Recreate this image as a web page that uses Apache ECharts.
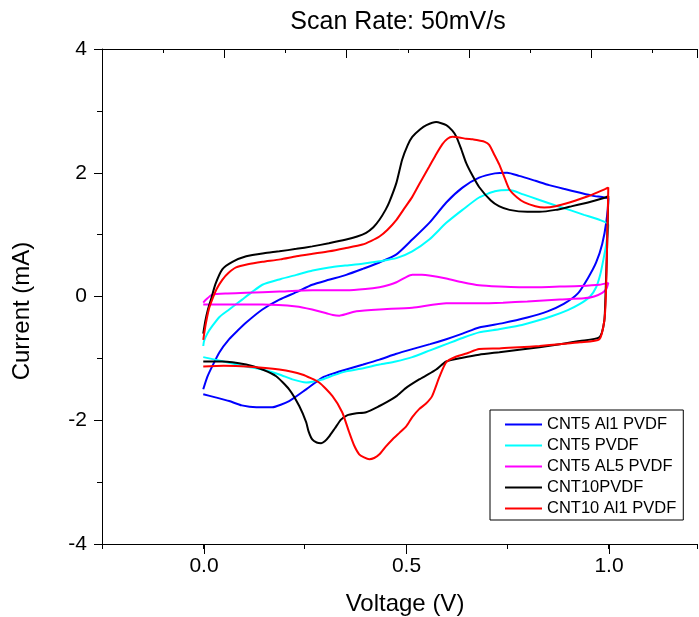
<!DOCTYPE html>
<html>
<head>
<meta charset="utf-8">
<script src="https://cdn.jsdelivr.net/npm/echarts@6/dist/echarts.min.js"></script>
<style>
  html, body { margin: 0; padding: 0; background: #fff; }
  #chart { width: 699px; height: 617px; }
</style>
</head>
<body>
<div id="chart"></div>
<script>
// CV loops: [voltage (V), current (mA)], forward sweep then return sweep
const seriesNames = ['CNT5 Al1 PVDF', 'CNT5 PVDF', 'CNT5 AL5 PVDF', 'CNT10PVDF', 'CNT10 Al1 PVDF'];
const seriesColors = ['#0000ff', '#00ffff', '#ff00ff', '#000000', '#ff0000'];

const cnt5Al1 = [
  [0.0, -1.5], [0.01, -1.3], [0.022, -1.13], [0.04, -0.9], [0.064, -0.69], [0.085, -0.55], [0.106, -0.42],
  [0.146, -0.21], [0.188, -0.05], [0.23, 0.07], [0.269, 0.19], [0.31, 0.27], [0.353, 0.35], [0.395, 0.45],
  [0.435, 0.55], [0.477, 0.68], [0.516, 0.92], [0.558, 1.19], [0.6, 1.52], [0.64, 1.76], [0.681, 1.92],
  [0.72, 1.99], [0.75, 2.0], [0.78, 1.95], [0.82, 1.87], [0.854, 1.8], [0.89, 1.74], [0.928, 1.68],
  [0.96, 1.63], [0.99, 1.6], [1.0, 1.58],
  [0.995, 1.2], [0.985, 0.85], [0.97, 0.55], [0.95, 0.3], [0.925, 0.05], [0.89, -0.12], [0.85, -0.24],
  [0.8, -0.34], [0.74, -0.43], [0.681, -0.5], [0.64, -0.6], [0.6, -0.69], [0.56, -0.77], [0.516, -0.85],
  [0.475, -0.93], [0.435, -1.02], [0.395, -1.1], [0.353, -1.18], [0.323, -1.24], [0.294, -1.31],
  [0.254, -1.5], [0.212, -1.69], [0.17, -1.79], [0.131, -1.79], [0.095, -1.76], [0.064, -1.69],
  [0.03, -1.63], [0.0, -1.58]
];

const cnt5 = [
  [0.0, -0.8], [0.002, -0.72], [0.01, -0.6], [0.022, -0.48], [0.04, -0.33], [0.064, -0.21], [0.096, -0.05],
  [0.12, 0.07], [0.146, 0.19], [0.19, 0.28], [0.23, 0.35], [0.27, 0.42], [0.311, 0.47], [0.35, 0.5],
  [0.393, 0.53], [0.435, 0.57], [0.477, 0.62], [0.516, 0.73], [0.558, 0.92], [0.6, 1.19], [0.64, 1.4],
  [0.681, 1.6], [0.72, 1.7], [0.756, 1.72], [0.79, 1.65], [0.83, 1.56], [0.87, 1.47], [0.904, 1.4],
  [0.94, 1.32], [0.978, 1.24], [1.0, 1.16],
  [0.995, 0.85], [0.988, 0.6], [0.98, 0.35], [0.97, 0.15], [0.955, 0.0], [0.93, -0.12], [0.9, -0.22],
  [0.86, -0.32], [0.82, -0.4], [0.78, -0.47], [0.73, -0.53], [0.681, -0.58], [0.64, -0.67], [0.6, -0.77],
  [0.56, -0.87], [0.516, -0.98], [0.475, -1.05], [0.435, -1.1], [0.395, -1.16], [0.353, -1.21],
  [0.323, -1.27], [0.294, -1.34], [0.254, -1.39], [0.22, -1.34], [0.188, -1.26], [0.146, -1.18],
  [0.106, -1.13], [0.05, -1.05], [0.0, -0.98]
];

const cnt5Al5 = [
  [0.0, -0.1], [0.007, -0.05], [0.022, 0.03], [0.06, 0.05], [0.106, 0.06], [0.188, 0.08], [0.269, 0.1],
  [0.353, 0.1], [0.4, 0.12], [0.435, 0.15], [0.46, 0.19], [0.477, 0.23], [0.5, 0.31], [0.516, 0.35],
  [0.54, 0.35], [0.558, 0.34], [0.6, 0.29], [0.64, 0.23], [0.681, 0.18], [0.73, 0.16], [0.78, 0.15],
  [0.83, 0.15], [0.88, 0.16], [0.93, 0.17], [0.978, 0.19], [1.0, 0.22],
  [0.995, 0.12], [0.985, 0.06], [0.965, 0.0], [0.94, -0.03], [0.88, -0.05], [0.8, -0.08], [0.74, -0.1],
  [0.681, -0.11], [0.6, -0.11], [0.516, -0.18], [0.435, -0.21], [0.378, -0.24], [0.355, -0.28],
  [0.336, -0.31], [0.32, -0.3], [0.304, -0.27], [0.269, -0.21], [0.23, -0.16], [0.146, -0.13],
  [0.064, -0.13], [0.0, -0.13]
];

const cnt10 = [
  [0.0, -0.6], [0.005, -0.4], [0.012, -0.2], [0.019, -0.05], [0.03, 0.2], [0.047, 0.44], [0.072, 0.56],
  [0.106, 0.65], [0.15, 0.7], [0.188, 0.73], [0.23, 0.77], [0.269, 0.81], [0.31, 0.86], [0.353, 0.92],
  [0.38, 0.97], [0.402, 1.03], [0.42, 1.12], [0.435, 1.24], [0.45, 1.4], [0.459, 1.52], [0.477, 1.84],
  [0.491, 2.21], [0.505, 2.45], [0.516, 2.58], [0.535, 2.7], [0.551, 2.77], [0.575, 2.82], [0.6, 2.77],
  [0.615, 2.68], [0.625, 2.58], [0.637, 2.38], [0.649, 2.16], [0.665, 1.95], [0.681, 1.77], [0.71, 1.55],
  [0.73, 1.46], [0.756, 1.4], [0.8, 1.37], [0.83, 1.37], [0.87, 1.4], [0.904, 1.45], [0.95, 1.52],
  [0.993, 1.6], [1.0, 1.62],
  [0.997, 0.8], [0.993, 0.0], [0.99, -0.4], [0.978, -0.66], [0.93, -0.72], [0.88, -0.77], [0.83, -0.82],
  [0.78, -0.86], [0.731, -0.9], [0.681, -0.94], [0.64, -0.99], [0.6, -1.05], [0.575, -1.18],
  [0.555, -1.26], [0.533, -1.34], [0.5, -1.48], [0.477, -1.61], [0.455, -1.7], [0.435, -1.77],
  [0.402, -1.87], [0.375, -1.89], [0.355, -1.92], [0.34, -1.99], [0.325, -2.13], [0.311, -2.26],
  [0.3, -2.34], [0.291, -2.37], [0.28, -2.36], [0.269, -2.31], [0.26, -2.18], [0.254, -2.03],
  [0.237, -1.77], [0.212, -1.5], [0.18, -1.29], [0.146, -1.18], [0.106, -1.1], [0.047, -1.05], [0.0, -1.05]
];

const cnt10Al1 = [
  [0.0, -0.7], [0.006, -0.45], [0.014, -0.2], [0.022, -0.05], [0.033, 0.12], [0.047, 0.27], [0.062, 0.38],
  [0.081, 0.47], [0.11, 0.52], [0.146, 0.56], [0.19, 0.6], [0.23, 0.65], [0.27, 0.69], [0.311, 0.73],
  [0.35, 0.78], [0.393, 0.84], [0.415, 0.9], [0.435, 0.97], [0.455, 1.08], [0.477, 1.24], [0.496, 1.42],
  [0.516, 1.61], [0.537, 1.86], [0.558, 2.1], [0.575, 2.3], [0.59, 2.46], [0.603, 2.55], [0.615, 2.58],
  [0.632, 2.57], [0.649, 2.55], [0.665, 2.54], [0.681, 2.52], [0.695, 2.5], [0.706, 2.45], [0.718, 2.3],
  [0.731, 2.13], [0.745, 1.9], [0.756, 1.73], [0.775, 1.6], [0.793, 1.52], [0.82, 1.46], [0.842, 1.44],
  [0.87, 1.46], [0.904, 1.52], [0.95, 1.62], [0.993, 1.74], [1.0, 1.76],
  [0.997, 0.8], [0.994, 0.0], [0.99, -0.4], [0.978, -0.69], [0.93, -0.74], [0.88, -0.77], [0.83, -0.8],
  [0.78, -0.82], [0.731, -0.84], [0.681, -0.85], [0.65, -0.92], [0.625, -0.97], [0.6, -1.06],
  [0.583, -1.3], [0.565, -1.61], [0.55, -1.73], [0.533, -1.82], [0.516, -1.95], [0.501, -2.1],
  [0.485, -2.2], [0.467, -2.31], [0.45, -2.43], [0.435, -2.55], [0.422, -2.61], [0.41, -2.63],
  [0.397, -2.6], [0.385, -2.55], [0.372, -2.4], [0.36, -2.19], [0.343, -1.87], [0.319, -1.61],
  [0.286, -1.39], [0.244, -1.26], [0.188, -1.18], [0.106, -1.13], [0.05, -1.12], [0.0, -1.13]
];

const seriesData = [cnt5Al1, cnt5, cnt5Al5, cnt10, cnt10Al1];

const FONT = 'Liberation Sans, Arial, sans-serif';

const chart = echarts.init(document.getElementById('chart'), null, { renderer: 'canvas' });

// plot frame runs up to the right edge of the picture
const option = {
  animation: false,
  backgroundColor: '#ffffff',
  title: {
    text: 'Scan Rate: 50mV/s',
    left: 393,
    top: 5,
    textAlign: 'center',
    textStyle: { fontFamily: FONT, fontSize: 25, fontWeight: 'normal', color: '#000' }
  },
  graphic: [
    {
      type: 'text',
      x: 22, y: 311,
      rotation: Math.PI / 2,
      style: {
        text: 'Current (mA)', font: '24px ' + FONT, fill: '#000',
        textAlign: 'center', textVerticalAlign: 'middle'
      }
    },
    {
      type: 'text',
      x: 405, y: 604,
      style: {
        text: 'Voltage (V)', font: '24px ' + FONT, fill: '#000',
        textAlign: 'center', textVerticalAlign: 'middle'
      }
    }
  ],
  legend: {
    orient: 'vertical',
    left: 490,
    top: 410,
    padding: [6, 7, 3, 15],
    borderColor: '#000',
    borderWidth: 1,
    itemWidth: 37,
    itemHeight: 2,
    itemGap: 4,
    icon: 'rect',
    data: seriesNames,
    textStyle: { fontFamily: FONT, fontSize: 16.5, lineHeight: 17, color: '#000' }
  },
  // grid 0 holds the data; grid 1 spans V=0..1 so the labelled long ticks fall on 0.0/0.5/1.0
  grid: [
    { left: 102, top: 49, width: 595, height: 495, outerBoundsMode: 'none' },
    { left: 204, top: 49, width: 405, height: 495, outerBoundsMode: 'none' }
  ],
  xAxis: [
    {
      type: 'value', gridIndex: 0, position: 'bottom',
      min: -0.25, max: 1.219, interval: 0.25,
      axisLine: { show: true, onZero: false, lineStyle: { color: '#000', width: 1 } },
      axisTick: { show: true, length: 5, lineStyle: { color: '#000' } },
      axisLabel: { show: false },
      splitLine: { show: false }
    },
    {
      type: 'value', gridIndex: 0, position: 'top',
      min: 0, max: 4.865, interval: 1,
      axisLine: { show: true, onZero: false, lineStyle: { color: '#000', width: 1 } },
      axisTick: { show: true, inside: true, length: 9, lineStyle: { color: '#000' } },
      minorTick: { show: true, splitNumber: 2, length: 4, lineStyle: { color: '#000' } },
      axisLabel: { show: false },
      splitLine: { show: false }
    },
    {
      type: 'value', gridIndex: 1, position: 'bottom',
      min: 0, max: 1.0, interval: 0.5,
      axisLine: { show: true, onZero: false, lineStyle: { color: '#000', width: 1 } },
      axisTick: { show: true, length: 10, lineStyle: { color: '#000' } },
      axisLabel: {
        fontFamily: FONT, fontSize: 21, color: '#000', margin: 12,
        formatter: v => v.toFixed(1)
      },
      splitLine: { show: false }
    }
  ],
  yAxis: [
    {
      type: 'value', gridIndex: 0, position: 'left',
      min: -4, max: 4, interval: 2,
      axisLine: { show: true, onZero: false, lineStyle: { color: '#000', width: 1 } },
      axisTick: { show: true, length: 8, lineStyle: { color: '#000' } },
      minorTick: { show: true, splitNumber: 2, length: 5, lineStyle: { color: '#000' } },
      axisLabel: { fontFamily: FONT, fontSize: 21, color: '#000', margin: 15 },
      splitLine: { show: false }
    },
    { type: 'value', gridIndex: 1, min: -4, max: 4, show: false }
  ],
  series: seriesNames.map((name, i) => ({
    name: name,
    type: 'line',
    xAxisIndex: 0,
    yAxisIndex: 0,
    data: seriesData[i],
    symbol: 'none',
    smooth: 0.2,
    color: seriesColors[i],
    lineStyle: { width: 2, color: seriesColors[i] }
  }))
};

chart.setOption(option);
</script>
</body>
</html>
